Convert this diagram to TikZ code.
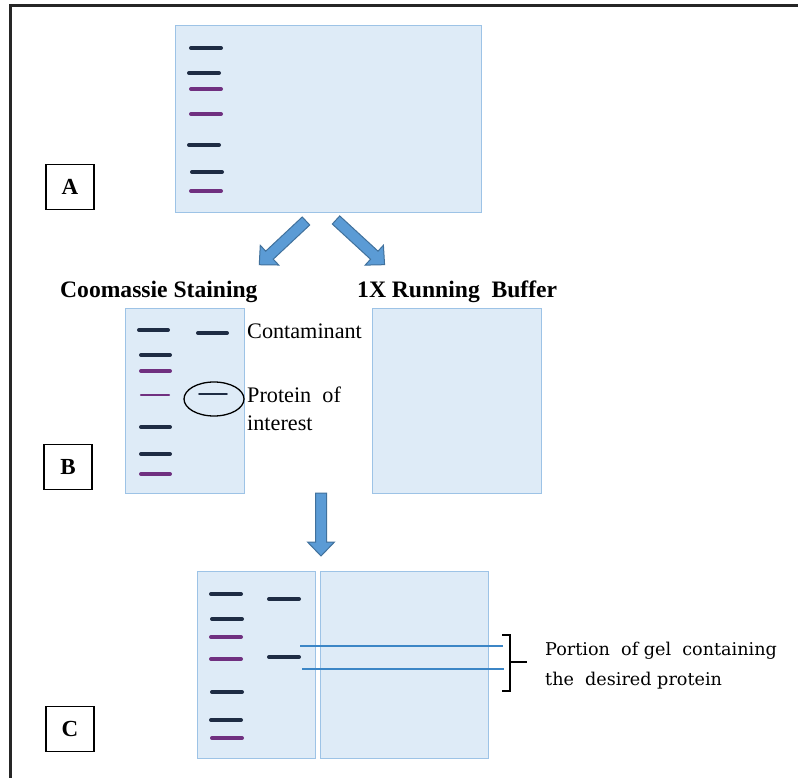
\documentclass[tikz,border=0pt]{standalone}
\usepackage{fontspec}
\usetikzlibrary{shapes.geometric}
\setmainfont{Liberation Serif}
\newfontfamily\bracketfont{DejaVu Serif}
\definecolor{gelfill}{RGB}{222,235,247}
\definecolor{geldraw}{RGB}{157,195,230}
\definecolor{bandnavy}{RGB}{30,44,68}
\definecolor{bandpurple}{RGB}{112,48,128}
\definecolor{arrowfill}{RGB}{91,155,213}
\definecolor{arrowdraw}{RGB}{65,113,156}
\definecolor{cutline}{RGB}{60,134,198}
\tikzset{
  gel/.style={draw=geldraw, fill=gelfill, line width=1.4pt, inner sep=0pt, anchor=north west},
  navyband/.style={draw=bandnavy, line width=4pt, line cap=round},
  purpleband/.style={draw=bandpurple, line width=4pt, line cap=round},
  lbox/.style={draw=black, fill=white, line width=1.5pt, minimum width=48pt, minimum height=45pt, inner sep=0pt, font=\fontsize{23}{26}\selectfont\bfseries},
  titletext/.style={anchor=base west, inner sep=0pt, font=\fontsize{23.6}{28}\selectfont\bfseries},
  bodytext/.style={anchor=base west, inner sep=0pt, font=\fontsize{22.2}{27}\selectfont},
  brtext/.style={anchor=base west, inner sep=0pt, font=\bracketfont\fontsize{17.6}{21}\selectfont},
  fatarrow/.style={fill=arrowfill, draw=arrowdraw, line width=1pt, line join=miter}
}
\newcommand{\blockarrow}[4]{% x, y of tail, angle, length
  \begin{scope}[shift={(#1,#2)}, rotate=#3]
    \path[fatarrow] (0,-5.5) -- (#4-14,-5.5) -- (#4-14,-13.5) -- (#4,0) -- (#4-14,13.5) -- (#4-14,5.5) -- (0,5.5) -- cycle;
  \end{scope}}
\begin{document}
\begin{tikzpicture}[x=1pt,y=-1pt]
\useasboundingbox (0,0) rectangle (798,778);
\clip (0,0) rectangle (798,778);
\fill[white] (0,0) rectangle (798,778);
% outer frame
\draw[line width=3pt, black!85] (10,800) -- (10,6) -- (820,6);

% ---------- A ----------
\node[gel, minimum width=306pt, minimum height=187pt] (gelA) at (175,25) {};
\draw[navyband]   (191,48) -- (221,48);
\draw[navyband]   (189,73) -- (219,73);
\draw[purpleband] (191,89) -- (221,89);
\draw[purpleband] (191,114) -- (221,114);
\draw[navyband]   (189,145) -- (219,145);
\draw[navyband]   (192,172) -- (222,172);
\draw[purpleband] (191,191) -- (221,191);
\node[lbox] (boxA) at (70,187) {A};

% arrows from A
\blockarrow{306}{221}{-136.9}{64}
\blockarrow{336}{220}{-42.6}{66}

% ---------- B ----------
\node[titletext] (tCoom) at (60,297) {Coomassie Staining};
\node[titletext] (tRun) at (357,297) {1X Running\ \ Buffer};
\node[gel, minimum width=119pt, minimum height=185pt] (gelB1) at (125,308) {};
\node[gel, minimum width=169pt, minimum height=185pt] (gelB2) at (372,308) {};
\draw[navyband]   (139,330) -- (168,330);
\draw[navyband]   (141,355) -- (170,355);
\draw[purpleband] (141,371) -- (170,371);
\draw[purpleband, line width=2.4pt] (141,395) -- (169,395);
\draw[navyband]   (141,427) -- (170,427);
\draw[navyband]   (141,454) -- (170,454);
\draw[purpleband] (141,474) -- (170,474);
\draw[navyband]   (198,333) -- (227,333);
\draw[draw=bandnavy, line width=1.8pt, line cap=round] (199,394) -- (227,394);
\node[draw=black, line width=1.3pt, ellipse, minimum width=60pt, minimum height=34pt, inner sep=0pt] (roi) at (214,399) {};
\node[bodytext] (tCont) at (247,338) {Contaminant};
\node[bodytext] (tProt1) at (247,402) {Protein\ \ of};
\node[bodytext] (tProt2) at (247,430) {interest};
\node[lbox] (boxB) at (68,467) {B};

% down arrow
\blockarrow{321}{493}{-90}{63}

% ---------- C ----------
\node[gel, minimum width=118pt, minimum height=187pt] (gelC1) at (197,571) {};
\node[gel, minimum width=168pt, minimum height=187pt] (gelC2) at (320,571) {};
\draw[navyband]   (211,594) -- (241,594);
\draw[navyband]   (212,619) -- (242,619);
\draw[purpleband] (211,637) -- (241,637);
\draw[purpleband] (211,659) -- (241,659);
\draw[navyband]   (212,692) -- (242,692);
\draw[navyband]   (211,720) -- (241,720);
\draw[purpleband] (212,738) -- (242,738);
\draw[navyband]   (269,599) -- (299,599);
\draw[navyband]   (269,657) -- (299,657);
\coordinate (cutA1) at (300,646);
\coordinate (cutA2) at (503,646);
\coordinate (cutB1) at (302,669);
\coordinate (cutB2) at (504,669);
\draw[cutline, line width=1.3pt] (cutA1) -- (cutA2);
\draw[cutline, line width=1.3pt] (cutB1) -- (cutB2);
\coordinate (brTop) at (510,635);
\coordinate (brBot) at (510,691);
\coordinate (brMid) at (510,662);
\coordinate (brTick) at (527,662);
\draw[black, line width=2pt, line cap=butt, line join=miter] (502,635) -- (brTop) -- (brBot) -- (502,691);
\draw[black, line width=2pt] (brMid) -- (brTick);
\node[brtext] (tPort1) at (545,655) {Portion\ \ of gel\ \ containing};
\node[brtext] (tPort2) at (545,685) {the\ \ desired protein};
\node[lbox] (boxC) at (70,729) {C};
\end{tikzpicture}
\end{document}
